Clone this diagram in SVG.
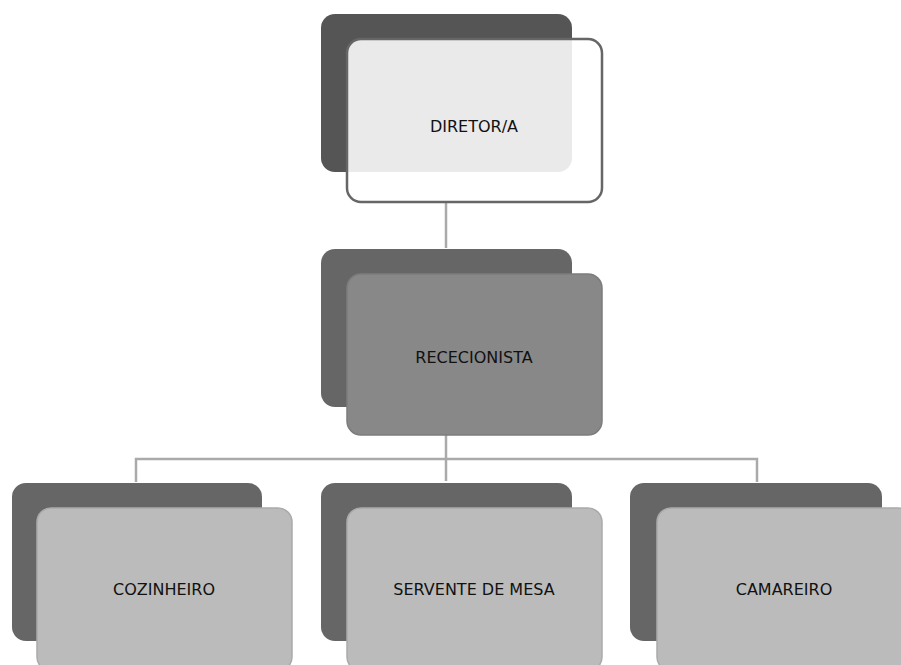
<svg xmlns="http://www.w3.org/2000/svg" width="901" height="665" viewBox="0 0 901 665">
<style>
  .back{fill:#666666}
  .back0{fill:#555555}
  .f0{fill:#ffffff;fill-opacity:0.88;stroke:#666666;stroke-width:2.5}
  .f1{fill:#888888;stroke:#7c7c7c;stroke-width:1.5}
  .f2{fill:#bbbbbb;stroke:#aaaaaa;stroke-width:1.5}
  .lbl{font-family:"DejaVu Sans","Liberation Sans",sans-serif;font-size:16px;fill:#111111;text-anchor:middle;dominant-baseline:central}
  .conn{fill:none;stroke:#aaaaaa;stroke-width:2.5}
</style>
<rect width="901" height="665" fill="#ffffff"/>
<g id="connectors">
  <path class="conn" d="M446 202 V248"/>
  <path class="conn" d="M446 435 V481"/>
  <path class="conn" d="M136 482 V459 H757 V482"/>
</g>
<g id="diretor">
  <rect class="back0" x="321" y="14" width="251" height="158" rx="14"/>
  <rect class="f0" x="347" y="39" width="255" height="163" rx="14"/>
  <text class="lbl" x="474" y="126">DIRETOR/A</text>
</g>
<g id="rececionista">
  <rect class="back" x="321" y="249" width="251" height="158" rx="14"/>
  <rect class="f1" x="347" y="274" width="255" height="161" rx="14"/>
  <text class="lbl" x="474" y="357">RECECIONISTA</text>
</g>
<g id="cozinheiro">
  <rect class="back" x="12" y="483" width="250" height="158" rx="14"/>
  <rect class="f2" x="37" y="508" width="255" height="163" rx="14"/>
  <text class="lbl" x="164" y="589">COZINHEIRO</text>
</g>
<g id="servente">
  <rect class="back" x="321" y="483" width="251" height="158" rx="14"/>
  <rect class="f2" x="347" y="508" width="255" height="163" rx="14"/>
  <text class="lbl" x="474" y="589">SERVENTE DE MESA</text>
</g>
<g id="camareiro">
  <rect class="back" x="630" y="483" width="252" height="158" rx="14"/>
  <rect class="f2" x="657" y="508" width="255" height="163" rx="14"/>
  <text class="lbl" x="784" y="589">CAMAREIRO</text>
</g>
</svg>
